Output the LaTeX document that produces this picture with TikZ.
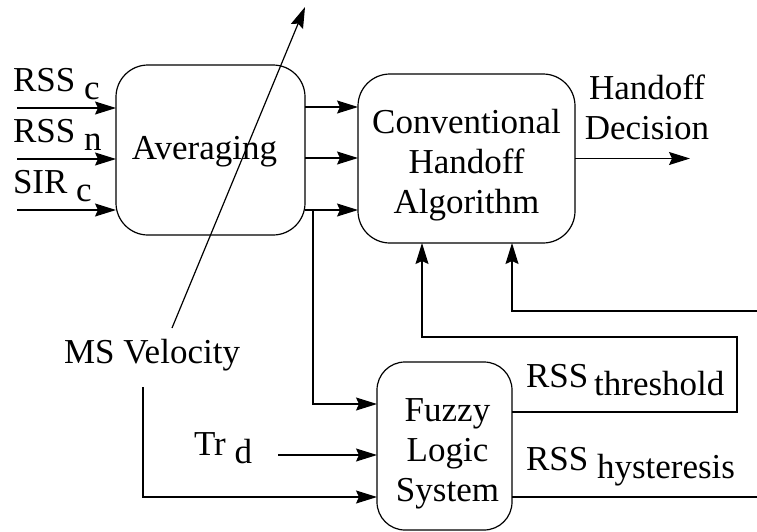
\documentclass[tikz,border=0pt]{standalone}
\usepackage{fontspec}
\setmainfont{Liberation Serif}
\usetikzlibrary{arrows.meta}
% centred stack of lines; optional argument pads the left side (shift = pad/2)
\newcommand{\stack}[2][0pt]{\begin{tabular}[t]{@{\hspace{#1}}c@{}}#2\end{tabular}}
% index set level with the text but dropped below its baseline
\newcommand{\lowered}[1]{\raisebox{-8.5pt}{#1}}
\begin{document}
\begin{tikzpicture}[x=1pt,y=-1pt,
  line width=1.2pt,
  every node/.style={font=\fontsize{35}{40}\selectfont, inner sep=0pt, outer sep=0pt},
  block/.style={draw, rounded corners=32pt, line width=1.2pt},
  flow/.style={-{Stealth[length=21pt,width=13pt,inset=3pt]}},
  lbl/.style={anchor=base west},
]
\useasboundingbox (0,0) rectangle (757,531);

% processing blocks
\node[block, minimum width=189pt, minimum height=170pt, text height=18pt, text depth=0pt]
  (avg) at (210.5,150) {\stack[-12pt]{Averaging}};
\node[block, minimum width=217pt, minimum height=169pt, text height=0pt, text depth=51pt]
  (conv) at (466.5,158.5) {\stack{Conventional\\Handoff\\Algorithm}};
\node[block, rounded corners=28pt, minimum width=135pt, minimum height=168pt, text height=0pt, text depth=50pt]
  (fls) at (444.5,446) {\stack[6pt]{Fuzzy\\Logic\\System}};

% measured inputs
\node[lbl] (lrssc) at (13,91)  {RSS \lowered{c}};
\node[lbl] (lrssn) at (13,142) {RSS \lowered{n}};
\node[lbl] (lsirc) at (13,193) {SIR \lowered{c}};
\coordinate (inc) at (17,108);
\coordinate (inn) at (17,159);
\coordinate (ins) at (17,210);
\draw[flow] (inc) -- (inc -| avg.west);
\draw[flow] (inn) -- (inn -| avg.west);
\draw[flow] (ins) -- (ins -| avg.west);

% averaged signals into the handoff algorithm
\draw[flow] (avg.east |- 0,107) -- (conv.west |- 0,107);
\draw[flow] (avg.east |- 0,158) -- (conv.west |- 0,158);
\draw[flow] (avg.east |- 0,210) -- (conv.west |- 0,210);
\coordinate (tap) at (313,210);
\draw[flow] (tap) |- (fls.west |- 0,404);

% velocity adjusts the averaging window
\node[lbl] (msv) at (64,363) {MS Velocity};
\coordinate (vlow) at (172,328);
\coordinate (vhigh) at (305,7);
\draw[flow] (vlow) -- (vhigh);
\coordinate (msfoot) at (143,387);
\draw[flow] (msfoot) |- (fls.west |- 0,497);

% traffic input
\node[lbl] (trd) at (194,455) {Tr \lowered{d}};
\coordinate (trsrc) at (278,455);
\draw[flow] (trsrc) -- (trsrc -| fls.west);

% decision output
\node[anchor=base] (hd) at (647,99) {\stack{Handoff\\Decision}};
\coordinate (hdout) at (690,158.5);
\draw[flow] (conv.east) -- (hdout);

% fuzzy outputs fed back
\node[lbl] (lthr) at (526,387) {RSS\,\lowered{threshold}};
\node[lbl] (lhys) at (526,470) {RSS \lowered{hysteresis}};
\draw[flow] (fls.east |- 0,412) -| (737,337) -| (conv.south -| 422,0);
\coordinate (hysend) at (757,497);
\draw (fls.east |- hysend) -- (hysend);
\coordinate (hysret) at (757,311);
\draw[flow] (hysret) -| (conv.south -| 512,0);
\end{tikzpicture}
\end{document}
